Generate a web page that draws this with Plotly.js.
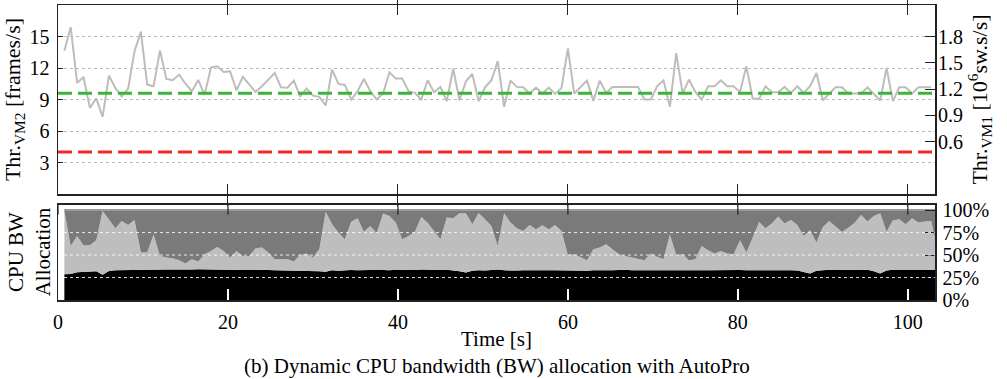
<!DOCTYPE html>
<html>
<head>
<meta charset="utf-8">
<script src="https://cdn.plot.ly/plotly-3.0.1.min.js"></script>
<style>html,body{margin:0;padding:0;background:#fff;}#chart{width:1007px;height:379px;}</style>
</head>
<body>
<div id="chart"></div>
<script>
// ---- data (sampled every 0.75 s, first sample at 0.75 s) ----
const SAMPLE_START = 0.75;
const SAMPLE_STEP = 0.75;

// Throughput of VM2 [frames/s]
const thrVM2 = [13.64, 15.9, 10.58, 11.15, 8.2, 9.1, 7.35, 11.27, 10.1, 9.3, 10.04, 13.58, 15.47, 10.42, 10.26, 13.67, 10.96, 10.83, 11.37, 10.5,
  9.79, 10.86, 9.44, 12.06, 12.16, 11.62, 11.68, 9.88, 11.15, 10.42, 9.72, 10.26, 10.86, 11.52, 10.16, 10.13, 10.8, 9.3, 10.04, 9.37,
  9.25, 8.43, 11.84, 10.48, 10.39, 9.0, 9.79, 10.96, 9.79, 9.0, 9.57, 11.59, 10.99, 10.99, 9.79, 9.63, 9.0, 10.83, 9.7, 10.2,
  8.84, 11.94, 8.9, 10.73, 11.43, 8.84, 10.16, 10.83, 12.66, 8.3, 10.8, 10.2, 10.16, 9.57, 10.13, 9.57, 10.13, 9.53, 10.1, 13.86,
  9.57, 10.16, 10.8, 8.87, 10.8, 9.63, 10.2, 10.2, 10.2, 10.2, 10.2, 9.0, 9.0, 10.26, 10.83, 8.3, 13.42, 9.57, 10.9, 9.72,
  9.0, 10.26, 10.26, 10.83, 10.26, 10.26, 9.7, 12.16, 9.09, 9.06, 10.26, 9.7, 9.7, 10.2, 9.63, 10.26, 9.63, 10.26, 11.52, 8.93,
  9.57, 10.16, 10.16, 9.57, 9.57, 9.57, 10.16, 9.57, 8.9, 12.0, 8.84, 10.16, 10.16, 9.57, 10.16, 10.16, 10.16];

// reference levels: green on the left axis [frames/s], red on the right axis [10^6 sw.s/s]
const sloGreenVM2 = 9.6;
const sloRedVM1 = 0.48;

// CPU bandwidth allocation [%]: black share, and cumulative top of light-grey share
const allocBlack = [28.7, 29.0, 30.9, 31.3, 31.7, 32.0, 28.0, 32.4, 33.1, 33.3, 33.3, 33.5, 33.5, 33.6, 33.8, 34.0, 34.0, 33.8, 33.6, 33.5,
  33.8, 34.2, 34.0, 33.6, 33.4, 33.6, 33.8, 33.5, 33.4, 33.6, 33.8, 33.8, 33.5, 33.2, 33.0, 33.2, 33.4, 33.0, 32.6, 32.4,
  32.0, 31.5, 33.0, 32.6, 33.2, 33.5, 33.0, 32.8, 33.4, 33.6, 33.2, 33.0, 33.6, 33.4, 33.2, 33.5, 33.8, 33.4, 33.0, 33.3,
  33.6, 33.0, 32.0, 30.5, 32.5, 33.2, 32.8, 33.4, 33.8, 33.0, 32.6, 32.8, 33.0, 33.2, 33.0, 32.8, 33.2, 33.0, 32.8, 32.6,
  33.0, 32.8, 32.5, 33.0, 33.4, 33.2, 33.0, 33.5, 33.6, 33.2, 33.0, 33.2, 33.4, 33.0, 33.2, 33.5, 33.2, 33.0, 33.3, 33.5,
  33.2, 33.0, 33.2, 33.4, 33.2, 33.0, 33.4, 33.2, 33.0, 33.2, 33.4, 33.0, 33.2, 33.4, 33.2, 32.8, 31.5, 29.5, 32.5, 33.4,
  33.6, 33.4, 33.6, 33.8, 33.6, 33.4, 33.6, 32.0, 29.5, 32.8, 33.6, 33.4, 33.2, 33.4, 33.6, 33.4, 33.6, 33.6];
const allocLightTop = [99, 60.2, 71.3, 61, 61, 66.5, 99, 88.7, 79.8, 88, 83.5, 89, 52.8, 52.8, 73, 49, 47.2, 46.5, 44.3, 40.6,
  45.4, 42.8, 51, 54.6, 59, 54.6, 47.2, 54.6, 49, 49, 57.6, 58.3, 52.8, 45.4, 45.4, 45.4, 42.8, 50.2, 51.7, 47.2,
  56.5, 98.3, 84.3, 75, 67.5, 87, 91, 76, 82.4, 74.3, 96.1, 93.5, 86.1, 67.6, 71.3, 76, 92.4, 86, 76.9, 67.6,
  91.7, 91, 96.5, 96.5, 84.3, 96.8, 89.8, 82.4, 60.2, 96.5, 86.1, 79.8, 76.9, 83.5, 78.7, 83.1, 78.7, 83.5, 76.9, 50.2,
  51, 47.2, 44.3, 56.5, 58.3, 62, 56.5, 51, 49, 47.2, 45.4, 44.3, 51.7, 48, 45.4, 73, 50.2, 51, 44.3, 45.4,
  60.2, 55.4, 51.7, 54.6, 51.7, 51, 66.5, 52.8, 69.4, 86.8, 79.8, 85, 92.8, 85, 89, 83.5, 71.3, 77.6, 63.9, 81.3,
  88, 81.3, 75.7, 80.5, 86, 94.6, 87.2, 93.5, 96.5, 76, 88.7, 89.8, 84.3, 91, 86.1, 87.2, 88, 55];
const TOTAL_BW = 100;

// axis ticks
const timeTicks = [0, 20, 40, 60, 80, 100];
const leftTicks = [3, 6, 9, 12, 15];
const rightTicks = [0.6, 0.9, 1.2, 1.5, 1.8];
const allocTicks = [0, 25, 50, 75, 100];
const allocTickText = ['0%', '25%', '50%', '75%', '100%'];

// ---- derived shares for stacking ----
const allocLight = allocLightTop.map((v, i) => v - allocBlack[i]);
const allocDark = allocLightTop.map(v => TOTAL_BW - v);

const FONT = {family: 'Liberation Serif, Times New Roman, serif', color: '#000', size: 20};
const TITLE_SIZE = 22;
const XR = [0, 103.2];

const traces = [
  {x0: SAMPLE_START, dx: SAMPLE_STEP, y: thrVM2, type: 'scatter', mode: 'lines', xaxis: 'x', yaxis: 'y',
   line: {color: '#bdbdbd', width: 2}},
  {x: [XR[0], XR[1]], y: [sloGreenVM2, sloGreenVM2], type: 'scatter', mode: 'lines', xaxis: 'x', yaxis: 'y',
   line: {color: '#3cb43c', width: 3, dash: '14px,6px'}},
  {x: [XR[0], XR[1]], y: [sloRedVM1, sloRedVM1], type: 'scatter', mode: 'lines', xaxis: 'x', yaxis: 'y3',
   line: {color: '#ee2a2a', width: 3, dash: '14px,6px'}},
  {x0: SAMPLE_START, dx: SAMPLE_STEP, y: allocBlack, type: 'scatter', mode: 'lines', stackgroup: 'bw',
   xaxis: 'x2', yaxis: 'y2', fillcolor: '#000000', line: {width: 0, color: '#000'}},
  {x0: SAMPLE_START, dx: SAMPLE_STEP, y: allocLight, type: 'scatter', mode: 'lines', stackgroup: 'bw',
   xaxis: 'x2', yaxis: 'y2', fillcolor: '#bebebe', line: {width: 0, color: '#bebebe'}},
  {x0: SAMPLE_START, dx: SAMPLE_STEP, y: allocDark, type: 'scatter', mode: 'lines', stackgroup: 'bw',
   xaxis: 'x2', yaxis: 'y2', fillcolor: '#7a7a7a', line: {width: 2, color: '#9a9a9a'}}
];

// white dotted gridlines drawn over the stacked areas
const gridShapes = allocTicks.filter(v => v > 0 && v < TOTAL_BW).map(v => ({
  type: 'line', xref: 'x2 domain', x0: 0, x1: 1, yref: 'y2', y0: v, y1: v,
  line: {color: 'rgba(255,255,255,0.85)', width: 1, dash: 'dot'}, layer: 'above'
}));
// black inside ticks on the top edge of the allocation panel
const topTickShapes = timeTicks.map(v => ({
  type: 'line', xref: 'x2', x0: v, x1: v, yref: 'y2 domain', y0: 1, y1: 0.895,
  line: {color: '#222', width: 1.2}, layer: 'above'
}));

const frame = {showline: true, linecolor: '#222', linewidth: 1.5};

const layout = {
  width: 1007, height: 379,
  margin: {l: 58, r: 72, t: 5, b: 79},
  paper_bgcolor: '#fff', plot_bgcolor: 'rgba(0,0,0,0)',
  font: FONT, showlegend: false,
  xaxis: Object.assign({}, frame, {anchor: 'y', domain: [0, 1], range: XR, tickvals: timeTicks, showticklabels: false,
    ticks: 'inside', ticklen: 10, tickcolor: '#222', mirror: 'allticks', showgrid: false, zeroline: false}),
  yaxis: Object.assign({}, frame, {anchor: 'x', domain: [0.3593, 1], range: [0, 18], tickvals: leftTicks,
    ticks: 'inside', ticklen: 5, tickcolor: '#222', mirror: true, showgrid: true, gridcolor: '#bbbbbb', griddash: 'dot', gridwidth: 1,
    zeroline: false, ticklabelstandoff: 3,
    title: {text: 'Thr.<sub>VM2</sub> [frames/s]', font: {size: TITLE_SIZE}, standoff: 5}}),
  yaxis3: {overlaying: 'y', side: 'right', anchor: 'x', range: [0, 2.16], tickvals: rightTicks, tickformat: '.1f',
    ticks: 'inside', ticklen: 10, tickcolor: '#222', showgrid: false, zeroline: false, showline: false,
    ticklabelstandoff: 2,
    title: {text: 'Thr.<sub>VM1</sub> [10<sup>6</sup>sw.s/s]', font: {size: TITLE_SIZE}, standoff: 9}},
  xaxis2: Object.assign({}, frame, {anchor: 'y2', domain: [0, 1], range: XR, tickvals: timeTicks, ticks: 'inside', ticklen: 11,
    tickcolor: '#ffffff', tickwidth: 1.5, mirror: true, showgrid: false, zeroline: false, ticklabelstandoff: 3,
    title: {text: 'Time [s]', font: {size: 21}, standoff: 0}}),
  yaxis2: Object.assign({}, frame, {anchor: 'x2', domain: [0, 0.323], range: [0, 106], side: 'right', tickvals: allocTicks,
    ticktext: allocTickText, ticks: 'inside', ticklen: 10, tickcolor: '#222', mirror: true, showgrid: false, zeroline: false,
    ticklabelstandoff: 2}),
  shapes: gridShapes.concat(topTickShapes),
  annotations: [
    {text: 'CPU BW<br>Allocation', xref: 'paper', yref: 'paper', x: 0, y: 0.1615, xshift: -29, textangle: -90,
     xanchor: 'center', yanchor: 'middle', showarrow: false, font: {size: 21}},
    {text: '(b) Dynamic CPU bandwidth (BW) allocation with AutoPro', xref: 'paper', yref: 'paper', x: 0.5, y: -0.2237,
     xanchor: 'center', yanchor: 'middle', showarrow: false, font: {size: 21}}
  ]
};

Plotly.newPlot('chart', traces, layout, {displayModeBar: false, staticPlot: true});
</script>
</body>
</html>
